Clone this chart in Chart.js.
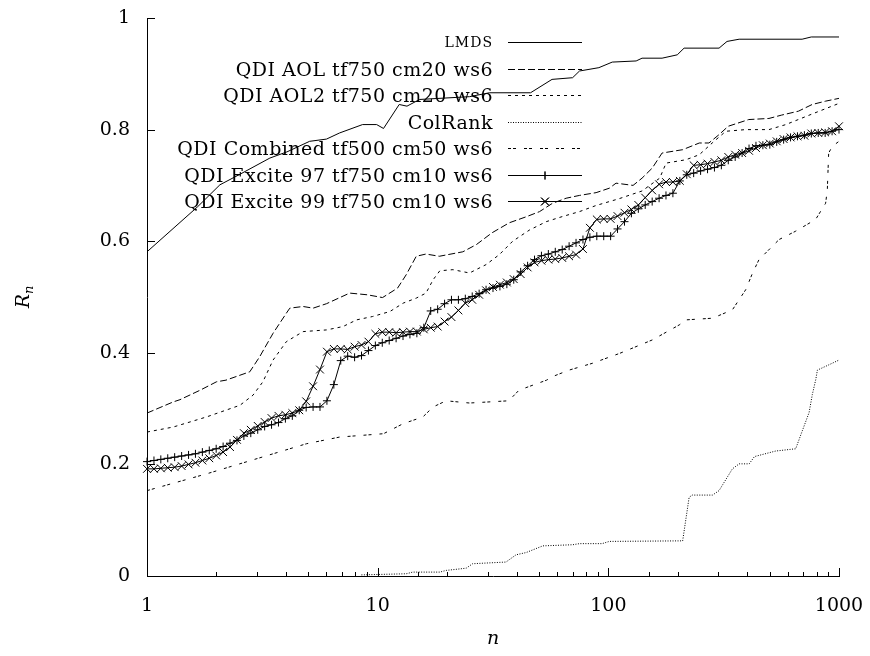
<!DOCTYPE html>
<html>
<head>
<meta charset="utf-8">
<script src="https://cdn.jsdelivr.net/npm/chart.js@4.4.1/dist/chart.umd.min.js"></script>
<style>
  html, body { margin: 0; padding: 0; background: #fff; }
  #wrap { width: 870px; height: 656px; }
</style>
</head>
<body>
<div id="wrap"><canvas id="chart" width="870" height="656"></canvas></div>
<script>
const seriesNames = [
  "LMDS",
  "QDI AOL tf750 cm20 ws6",
  "QDI AOL2 tf750 cm20 ws6",
  "ColRank",
  "QDI Combined tf500 cm50 ws6",
  "QDI Excite 97 tf750 cm10 ws6",
  "QDI Excite 99 tf750 cm10 ws6"
];

const yTicks = [0, 0.2, 0.4, 0.6, 0.8, 1];
const xTickLabels = [1, 10, 100, 1000];

const lmdsN = [1, 1.66, 2.07, 2.53, 3.41, 4.04, 5.07, 6.0, 6.84, 8.6, 9.9, 10.6, 12.4, 13.4, 15.2, 25, 30.5, 46, 57, 70, 75, 91, 104, 132, 140, 171, 199, 213, 302, 327, 369, 692, 758, 1000];
const lmdsR = [0.581, 0.662, 0.701, 0.72, 0.749, 0.76, 0.779, 0.783, 0.794, 0.809, 0.809, 0.802, 0.845, 0.842, 0.854, 0.859, 0.866, 0.866, 0.89, 0.893, 0.905, 0.911, 0.921, 0.923, 0.928, 0.928, 0.934, 0.946, 0.946, 0.958, 0.962, 0.962, 0.966, 0.966];

const aolN = [1, 1.3, 1.39, 1.7, 2.0, 2.2, 2.79, 3.08, 3.52, 4.02, 4.16, 4.75, 5.25, 6.0, 7.56, 9.0, 10.5, 12.2, 13.3, 14.7, 16.2, 18.5, 23.4, 26.8, 31.3, 37.2, 44.2, 50.3, 57.3, 65.6, 74.9, 88.5, 101, 108, 128, 140, 155, 171, 210, 248, 273, 302, 331, 406, 497, 564, 667, 765, 875, 1000];
const aolR = [0.292, 0.312, 0.316, 0.333, 0.348, 0.351, 0.366, 0.393, 0.435, 0.471, 0.48, 0.483, 0.48, 0.488, 0.507, 0.504, 0.499, 0.516, 0.54, 0.573, 0.577, 0.573, 0.581, 0.594, 0.615, 0.633, 0.644, 0.653, 0.668, 0.677, 0.682, 0.687, 0.695, 0.704, 0.70, 0.713, 0.731, 0.758, 0.764, 0.776, 0.776, 0.791, 0.806, 0.818, 0.820, 0.826, 0.833, 0.845, 0.851, 0.856];

const aol2N = [1, 1.3, 1.81, 2.53, 2.88, 3.18, 3.52, 4.02, 4.75, 6.0, 7.07, 8.1, 9.5, 11.3, 12.9, 14.7, 16.2, 17.4, 18.6, 21.2, 25, 29.5, 33.7, 38.5, 45.5, 53.8, 63, 74.9, 88.5, 101, 111, 140, 167, 178, 217, 248, 282, 323, 394, 497, 588, 765, 1000];
const aol2R = [0.258, 0.267, 0.285, 0.306, 0.324, 0.348, 0.387, 0.42, 0.438, 0.441, 0.447, 0.459, 0.465, 0.474, 0.489, 0.498, 0.507, 0.531, 0.547, 0.549, 0.543, 0.558, 0.576, 0.60, 0.62, 0.635, 0.644, 0.653, 0.664, 0.671, 0.676, 0.690, 0.713, 0.74, 0.746, 0.755, 0.776, 0.797, 0.80, 0.80, 0.809, 0.828, 0.847];

const colRankN = [8.5, 13.3, 14.2, 18.6, 19.8, 24.2, 25.8, 36, 39.8, 44, 52, 70, 75, 94, 101, 210, 224, 231, 283, 302, 345, 369, 408, 430, 532, 649, 693, 742, 766, 793, 806, 899, 1000];
const colRankR = [0.002, 0.004, 0.007, 0.007, 0.01, 0.014, 0.022, 0.025, 0.038, 0.042, 0.054, 0.056, 0.058, 0.058, 0.062, 0.063, 0.141, 0.145, 0.145, 0.153, 0.192, 0.201, 0.201, 0.214, 0.224, 0.228, 0.26, 0.293, 0.325, 0.352, 0.369, 0.378, 0.387];

const combinedN = [1, 1.81, 3.52, 4.91, 6.84, 10.6, 12.9, 15.7, 17.4, 19.8, 25, 37, 41, 54, 57, 67.6, 85, 112, 155, 203, 217, 283, 345, 394, 422, 450, 550, 649, 792, 875, 890, 902, 935, 1000];
const combinedR = [0.153, 0.183, 0.219, 0.237, 0.249, 0.255, 0.273, 0.285, 0.303, 0.314, 0.31, 0.314, 0.333, 0.351, 0.357, 0.369, 0.381, 0.399, 0.423, 0.45, 0.459, 0.462, 0.477, 0.513, 0.543, 0.567, 0.603, 0.618, 0.639, 0.668, 0.692, 0.758, 0.77, 0.779];

// sample points shared by the two Excite runs (the ones with markers)
const exciteN = [1, 1.072, 1.148, 1.23, 1.318, 1.413, 1.514, 1.622, 1.738, 1.862,
  1.995, 2.138, 2.291, 2.455, 2.63, 2.818, 3.02, 3.236, 3.467, 3.715,
  3.981, 4.266, 4.571, 4.898, 5.248, 5.623, 6.026, 6.457, 6.918, 7.413,
  7.943, 8.511, 9.12, 9.772, 10.47, 11.22, 12.02, 12.88, 13.8, 14.79,
  15.85, 16.98, 18.2, 19.5, 20.89, 22.39, 23.99, 25.7, 27.54, 29.51,
  31.62, 33.88, 36.31, 38.9, 41.69, 44.67, 47.86, 51.29, 54.95, 58.88,
  63.1, 67.61, 72.44, 77.62, 83.18, 89.13, 95.5, 102.3, 109.6, 117.5,
  125.9, 134.9, 144.5, 154.9, 166, 177.8, 190.5, 204.2, 218.8, 234.4,
  251.2, 269.2, 288.4, 309, 331.1, 354.8, 380.2, 407.4, 436.5, 467.7,
  501.2, 537, 575.4, 616.6, 660.7, 707.9, 758.6, 812.8, 871, 933.3, 1000];

const excite97R = [0.205, 0.207, 0.209, 0.211, 0.213, 0.215, 0.217, 0.219, 0.222, 0.225,
  0.228, 0.232, 0.238, 0.243, 0.251, 0.256, 0.262, 0.268, 0.271, 0.275,
  0.282, 0.287, 0.297, 0.302, 0.303, 0.303, 0.314, 0.343, 0.386, 0.394,
  0.392, 0.395, 0.404, 0.413, 0.418, 0.422, 0.426, 0.430, 0.433, 0.435,
  0.445, 0.475, 0.478, 0.488, 0.495, 0.495, 0.497, 0.501, 0.506, 0.513,
  0.516, 0.519, 0.523, 0.531, 0.545, 0.556, 0.567, 0.574, 0.577, 0.581,
  0.585, 0.591, 0.597, 0.603, 0.607, 0.609, 0.609, 0.609, 0.622, 0.635,
  0.650, 0.658, 0.665, 0.671, 0.677, 0.682, 0.686, 0.708, 0.719, 0.722,
  0.726, 0.729, 0.732, 0.736, 0.745, 0.751, 0.758, 0.766, 0.771, 0.772,
  0.773, 0.778, 0.782, 0.786, 0.788, 0.790, 0.793, 0.794, 0.794, 0.797, 0.800];

const excite99R = [0.192, 0.192, 0.193, 0.194, 0.195, 0.197, 0.200, 0.203, 0.207, 0.211,
  0.216, 0.222, 0.231, 0.244, 0.256, 0.262, 0.269, 0.276, 0.283, 0.287,
  0.289, 0.292, 0.297, 0.313, 0.340, 0.370, 0.402, 0.407, 0.407, 0.406,
  0.411, 0.414, 0.420, 0.434, 0.437, 0.437, 0.436, 0.437, 0.438, 0.438,
  0.442, 0.445, 0.447, 0.456, 0.464, 0.476, 0.489, 0.495, 0.504, 0.512,
  0.518, 0.522, 0.526, 0.532, 0.541, 0.553, 0.562, 0.565, 0.567, 0.568,
  0.570, 0.573, 0.576, 0.586, 0.624, 0.639, 0.640, 0.640, 0.645, 0.651,
  0.657, 0.665, 0.678, 0.691, 0.702, 0.706, 0.706, 0.708, 0.720, 0.736,
  0.737, 0.739, 0.742, 0.745, 0.751, 0.755, 0.758, 0.762, 0.767, 0.772,
  0.775, 0.779, 0.783, 0.786, 0.788, 0.789, 0.793, 0.794, 0.795, 0.797, 0.806];

const FONT = "'DejaVu Serif', serif";

function points(ns, rs) {
  return ns.map((n, i) => ({ x: n, y: rs[i] }));
}

function lineSet(label, ns, rs, dash, extra) {
  return Object.assign({
    label,
    data: points(ns, rs),
    borderColor: "#000",
    borderWidth: 1,
    borderDash: dash,
    pointRadius: 0,
    tension: 0,
    fill: false,
    clip: false
  }, extra || {});
}

const datasets = [
  lineSet(seriesNames[0], lmdsN, lmdsR, []),
  lineSet(seriesNames[1], aolN, aolR, [7, 3]),
  lineSet(seriesNames[2], aol2N, aol2R, [3, 4]),
  lineSet(seriesNames[3], colRankN, colRankR, [1, 1.5]),
  lineSet(seriesNames[4], combinedN, combinedR, [3, 2, 3, 8]),
  lineSet(seriesNames[5], exciteN, excite97R, [], {
    pointStyle: "cross", pointRadius: 4, pointBorderWidth: 1, pointBorderColor: "#000"
  }),
  lineSet(seriesNames[6], exciteN, excite99R, [], {
    pointStyle: "crossRot", pointRadius: 5.5, pointBorderWidth: 1, pointBorderColor: "#000"
  })
];

// inward tick marks, right-aligned legend and italic axis titles
const decorations = {
  id: "decorations",
  afterDraw(c) {
    const ctx = c.ctx;
    const area = c.chartArea;
    const xs = c.scales.x;
    const ys = c.scales.y;
    ctx.save();
    ctx.strokeStyle = "#000";
    ctx.lineWidth = 1;
    ctx.setLineDash([]);
    ctx.beginPath();
    yTicks.forEach((v) => {
      const py = Math.round(ys.getPixelForValue(v)) + 0.5;
      ctx.moveTo(area.left, py);
      ctx.lineTo(area.left + 8, py);
    });
    xs.ticks.forEach((t) => {
      const px = Math.round(xs.getPixelForValue(t.value)) + 0.5;
      const len = xTickLabels.includes(t.value) ? 8 : 4;
      ctx.moveTo(px, area.bottom);
      ctx.lineTo(px, area.bottom - len);
    });
    ctx.stroke();

    // legend
    const textRight = 493;
    const lineStart = 508;
    const lineEnd = 582;
    c.data.datasets.forEach((ds, i) => {
      const y = 42.3 + 26.45 * i;
      ctx.fillStyle = "#000";
      ctx.textAlign = "right";
      ctx.textBaseline = "alphabetic";
      ctx.font = i === 0 ? `14px ${FONT}` : `19px ${FONT}`;
      ctx.letterSpacing = i === 0 ? "1px" : "0.5px";
      ctx.fillText(ds.label, textRight, y + (i === 0 ? 5 : 7));
      ctx.letterSpacing = "0px";
      ctx.beginPath();
      ctx.setLineDash(ds.borderDash || []);
      ctx.moveTo(lineStart, Math.round(y) + 0.5);
      ctx.lineTo(lineEnd, Math.round(y) + 0.5);
      ctx.stroke();
      ctx.setLineDash([]);
      if (ds.pointRadius > 0) {
        Chart.helpers.drawPoint(ctx, {
          pointStyle: ds.pointStyle,
          radius: ds.pointRadius,
          borderWidth: 1,
          rotation: 0
        }, (lineStart + lineEnd) / 2, Math.round(y) + 0.5);
        ctx.stroke();
      }
    });

    // axis titles
    ctx.fillStyle = "#000";
    ctx.font = `italic 19px ${FONT}`;
    ctx.textAlign = "center";
    ctx.textBaseline = "alphabetic";
    ctx.fillText("n", (area.left + area.right) / 2, 644);

    ctx.translate(29, (area.top + area.bottom) / 2);
    ctx.rotate(-Math.PI / 2);
    ctx.textAlign = "left";
    ctx.font = `italic 19px ${FONT}`;
    const rw = ctx.measureText("R").width;
    ctx.font = `italic 13px ${FONT}`;
    const nw = ctx.measureText("n").width;
    const x0 = -(rw + nw) / 2;
    ctx.font = `italic 19px ${FONT}`;
    ctx.fillText("R", x0, 0);
    ctx.font = `italic 13px ${FONT}`;
    ctx.fillText("n", x0 + rw, 4);
    ctx.restore();
  }
};

new Chart(document.getElementById("chart"), {
  type: "line",
  data: { datasets },
  options: {
    responsive: false,
    animation: false,
    devicePixelRatio: 1,
    events: [],
    layout: { padding: { left: 0, right: 31, top: 18, bottom: 0 } },
    plugins: {
      legend: { display: false },
      tooltip: { enabled: false }
    },
    scales: {
      x: {
        type: "logarithmic",
        min: 1,
        max: 1000,
        afterFit: (s) => { s.height = 80; s.paddingLeft = 0; s.paddingRight = 0; },
        grid: { display: true, drawOnChartArea: false, drawTicks: false },
        border: { display: true, color: "#000", width: 1 },
        ticks: {
          autoSkip: false,
          maxRotation: 0,
          padding: 19,
          color: "#000",
          font: { family: FONT, size: 19 },
          callback: (v) => (xTickLabels.includes(v) ? String(v) : "")
        }
      },
      y: {
        type: "linear",
        min: 0,
        max: 1,
        afterFit: (s) => { s.width = 147; s.paddingTop = 0; s.paddingBottom = 0; },
        afterBuildTicks: (s) => { s.ticks = yTicks.map((v) => ({ value: v })); },
        grid: { display: true, drawOnChartArea: false, drawTicks: false },
        border: { display: true, color: "#000", width: 1 },
        ticks: {
          padding: 17,
          color: "#000",
          font: { family: FONT, size: 19 },
          callback: (v) => String(Math.round(v * 10) / 10)
        }
      }
    }
  },
  plugins: [decorations]
});
</script>
</body>
</html>
